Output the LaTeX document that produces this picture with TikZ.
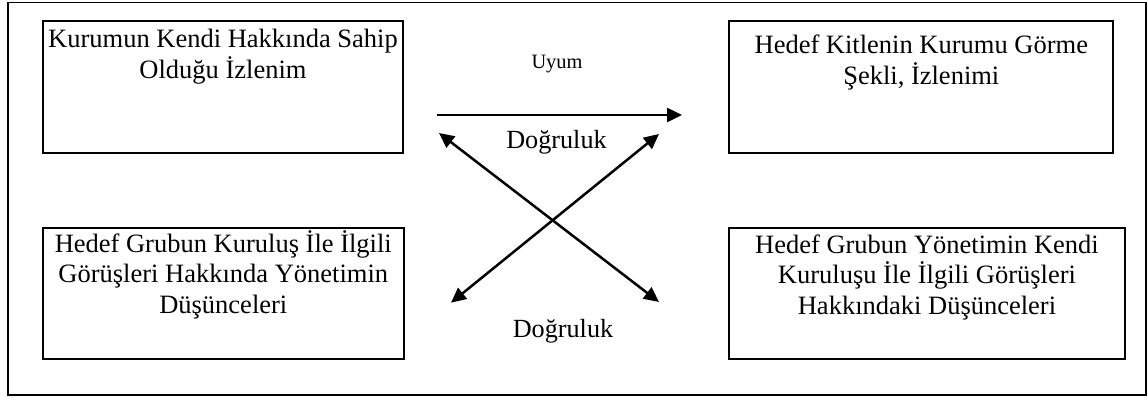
\documentclass[tikz,border=0pt]{standalone}
\usepackage{fontspec}
\setmainfont{Liberation Serif}
\usetikzlibrary{arrows.meta}

% text block of a box: width, height, height of the first line
\newcommand{\boxbody}[4]{\parbox[c][#2][t]{#1}{\centering\fontsize{26.5}{30.5}\selectfont\rule{0pt}{#3}#4}}

\tikzset{
  frame/.style={draw, line width=1.4pt},
  idea/.style={draw, line width=2pt, inner sep=0pt, outer sep=0pt},
  link/.style={line width=2.5pt, -{Triangle[length=15pt,width=14pt]}},
  twoway/.style={line width=2.5pt, {Triangle[length=15pt,width=14pt]}-{Triangle[length=15pt,width=14pt]}},
  small/.style={font=\fontsize{20.4}{24}\selectfont, inner sep=0pt, anchor=base},
  label/.style={font=\fontsize{26.2}{30}\selectfont, inner sep=0pt, anchor=base}
}

\begin{document}
\begin{tikzpicture}[x=1pt, y=-1pt]
  \useasboundingbox (0,0) rectangle (1148,398);
  \draw[frame] (8,2.5) rectangle (1146,395);

  \node[idea] (self) at (223,87)
    {\boxbody{360.6pt}{132pt}{27pt}{Kurumun Kendi Hakkında Sahip\\Olduğu İzlenim}};
  \node[idea] (public) at (921.3,87)
    {\boxbody{384pt}{132pt}{33pt}{Hedef Kitlenin Kurumu Görme\\Şekli, İzlenimi}};
  \node[idea] (mgmt) at (223.3,293.7)
    {\boxbody{361.3pt}{131.3pt}{24pt}{Hedef Grubun Kuruluş İle İlgili\\Görüşleri Hakkında Yönetimin\\Düşünceleri}};
  \node[idea] (group) at (927,293.5)
    {\boxbody{396pt}{131pt}{25pt}{Hedef Grubun Yönetimin Kendi\\Kuruluşu İle İlgili Görüşleri\\Hakkındaki Düşünceleri}};

  % arrow end points
  \coordinate (u1) at (437,115);
  \coordinate (u2) at (682,115);
  \coordinate (a1) at (439,133);
  \coordinate (a2) at (659,302);
  \coordinate (b1) at (659,134);
  \coordinate (b2) at (451,302.7);

  \draw[link] (u1) -- (u2);
  \draw[twoway] (a1) -- (a2);
  \draw[twoway] (b1) -- (b2);

  \node[small] (uyum) at (557,69) {Uyum};
  \node[label] (dogru1) at (556.5,149) {Doğruluk};
  \node[label] (dogru2) at (563,337) {Doğruluk};
\end{tikzpicture}
\end{document}
